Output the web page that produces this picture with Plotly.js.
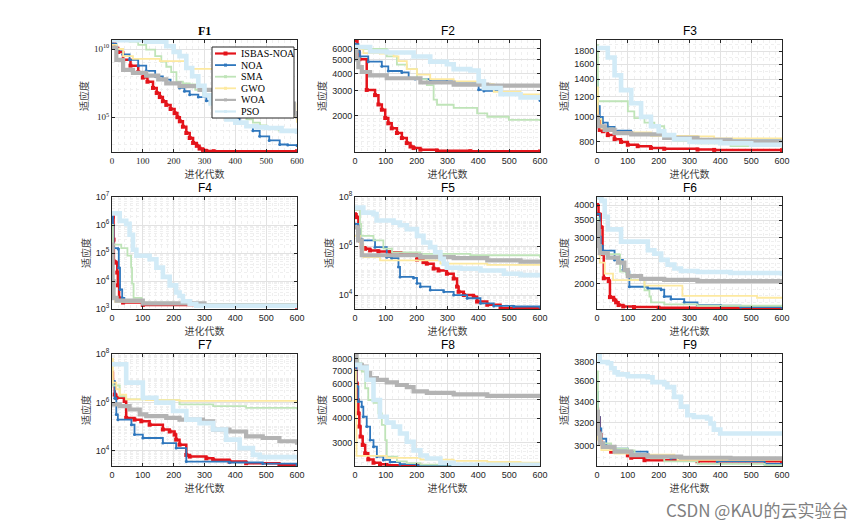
<!DOCTYPE html>
<html><head><meta charset="utf-8">
<script src="https://cdn.plot.ly/plotly-3.0.1.min.js"></script>
<style>html,body{margin:0;padding:0;background:#fff}#chart{width:865px;height:524px}</style>
</head><body><div id="chart"></div>
<script>
// ---------------- data ----------------
const seriesNames = ['ISBAS-NOA', 'NOA', 'SMA', 'GWO', 'WOA', 'PSO'];
const functionTitles = ['F1', 'F2', 'F3', 'F4', 'F5', 'F6', 'F7', 'F8', 'F9'];
const iterTicks = [0, 100, 200, 300, 400, 500, 600];
const xLabel = '进化代数';
const yLabel = '适应度';
const watermark = 'CSDN @KAU的云实验台';

// F1  [iteration, fitness]
const F1_ISBAS = [[0,2.5e10],[10,1.2e10],[20,6e9],[36,1.6e9],[60,6e8],[85,2e8],[100,8e7],[115,4e7],[133,1.4e7],[145,6e6],[155,3e6],[165,1.5e6],[176,8e5],[190,4e5],[203,2e5],[212,1e5],[220,5e4],[230,2e4],[241,7e3],[252,3e3],[263,1.3e3],[275,800],[284,500],[295,400],[306,330],[330,320],[600,316]];
const F1_NOA = [[0,2.5e10],[14,9e9],[35,4e9],[57,1.6e9],[85,6e8],[111,2.5e8],[140,1e8],[165,5.6e7],[190,3e7],[219,1.4e7],[235,8e6],[252,4.5e6],[280,3e6],[306,1.6e6],[330,9e5],[349,3.5e5],[370,2e5],[392,9e4],[414,4e4],[436,2.2e4],[457,1e4],[479,4e3],[510,2e3],[544,1e3],[570,900],[600,850]];
const F1_SMA = [[0,4.5e10],[57,3.5e10],[85,2e10],[111,9e9],[140,3e9],[160,1.2e9],[176,5e8],[192,2e8],[209,4e7],[230,3e7],[252,2.5e7],[270,1e7],[295,4.5e6],[328,2.5e6],[350,1.5e6],[371,8e5],[392,3e5],[414,1.2e5],[436,7e4],[457,4e4],[480,2.5e4],[501,1.5e4],[540,1.1e4],[600,8e3]];
const F1_GWO = [[0,2e10],[15,1e10],[36,3e9],[68,1.9e9],[155,1.3e9],[239,3.5e8],[565,2e7],[580,1e6],[595,1e5],[600,4e4]];
const F1_WOA = [[0,1.2e10],[14,1.6e9],[36,3e8],[68,1.8e8],[111,1.1e8],[150,6e7],[176,3e7],[219,1.9e7],[284,1e7],[400,8e6],[560,7e6],[575,1e6],[590,2e5],[600,8e4]];
const F1_PSO = [[0,4.5e10],[111,3.5e10],[176,1.6e10],[200,6e9],[219,3e9],[241,4e8],[260,1e8],[280,2e7],[300,4e6],[320,1e6],[345,3e5],[371,7e4],[400,4e4],[436,2.2e4],[470,1.8e4],[501,1.6e4],[550,1e4],[600,6e3]];

// F2
const F2_ISBAS = [[0,6900],[8,5800],[14,5060],[38,3050],[65,2800],[76,2400],[87,2200],[98,1920],[108,1760],[119,1620],[136,1500],[152,1380],[168,1270],[180,1200],[190,1170],[212,1140],[266,1120],[374,1110],[600,1105]];
const F2_NOA = [[0,6500],[11,5750],[16,5300],[43,4860],[87,4500],[108,4170],[152,4070],[174,3720],[195,3650],[244,3600],[298,3510],[320,3400],[401,3060],[418,3000],[472,2840],[537,2700],[600,2560]];
const F2_SMA = [[0,6100],[27,6000],[103,5300],[136,4630],[168,4300],[201,3650],[233,3300],[255,2600],[266,2390],[320,2270],[396,2070],[429,1960],[499,1860],[600,1830]];
const F2_GWO = [[0,6000],[27,5600],[81,5560],[125,5300],[141,4900],[168,4300],[201,3930],[244,3650],[320,3510],[396,3350],[450,2960],[537,2840],[600,2620]];
const F2_WOA = [[0,6000],[5,5050],[11,4450],[22,4100],[49,3880],[103,3700],[212,3450],[320,3330],[429,3280],[600,3250]];
const F2_PSO = [[0,6200],[49,5750],[103,5650],[190,5300],[244,4860],[298,4660],[320,4300],[374,4200],[401,3520],[418,3150],[472,2840],[537,2700],[600,2580]];

// F3
const F3_ISBAS = [[0,1100],[3,970],[9,890],[19,880],[35,850],[57,820],[78,800],[100,780],[132,770],[175,758],[218,752],[326,747],[380,745],[600,743]];
const F3_NOA = [[0,1400],[3,1100],[9,1000],[19,950],[35,915],[57,884],[111,865],[164,855],[218,835],[326,820],[412,810],[600,800]];
const F3_SMA = [[0,1900],[3,1150],[89,1150],[100,1050],[121,990],[154,950],[186,920],[218,840],[250,810],[326,790],[433,770],[600,760]];
const F3_GWO = [[0,1300],[3,980],[14,900],[57,870],[175,845],[326,840],[380,825],[600,800]];
const F3_WOA = [[0,1000],[3,920],[25,890],[57,865],[111,855],[218,830],[326,815],[433,800],[600,790]];
const F3_PSO = [[0,1850],[25,1850],[35,1700],[57,1450],[78,1270],[111,1130],[143,1000],[175,920],[200,880],[218,850],[250,820],[300,800],[400,790],[500,780],[600,775]];

// F4
const F4_ISBAS = [[0,2.5e6],[3,2e6],[5,3e5],[6,5e4],[12,4.5e4],[17,2e4],[19,7e3],[23,2.4e3],[36,1.7e3],[100,1.4e3],[600,1.2e3]];
const F4_NOA = [[0,2e6],[3,1e6],[5,1.5e5],[20,1.4e5],[22,3e4],[26,5e3],[33,2.5e3],[40,1.8e3],[100,1.5e3],[600,1.2e3]];
const F4_SMA = [[0,1e6],[3,2e5],[30,1.5e5],[50,8e4],[62,3e4],[65,8e3],[70,2.5e3],[95,2.4e3],[97,1.7e3],[200,1.5e3],[600,1.2e3]];
const F4_GWO = [[0,5e4],[3,1e4],[5,2.5e3],[10,1.8e3],[100,1.5e3],[600,1.2e3]];
const F4_WOA = [[0,2e5],[2,1e4],[5,2.5e3],[15,2e3],[100,1.6e3],[300,1.35e3],[600,1.25e3]];
const F4_PSO = [[0,2.6e6],[25,1.4e6],[46,1.1e6],[57,4.5e5],[68,1.3e5],[79,8e4],[111,8e4],[122,6e4],[144,3e4],[165,1.4e4],[187,7e3],[208,3.9e3],[219,2.9e3],[230,1.9e3],[252,1.5e3],[273,1.3e3],[600,1.3e3]];

// F5
const F5_ISBAS = [[0,2e7],[5,1.5e7],[11,4e6],[16,1.7e6],[22,9e5],[33,7.7e5],[49,6.6e5],[76,6e5],[114,5.6e5],[150,4.5e5],[201,2.8e5],[222,2.2e5],[233,1.9e5],[255,1.2e5],[271,1e5],[298,7.4e4],[320,4.7e4],[331,2.2e4],[336,1.35e4],[353,1e4],[385,8.5e3],[396,5.4e3],[429,4e3],[472,2.9e3],[600,2.8e3]];
const F5_NOA = [[0,8e6],[11,5e6],[16,2e6],[22,1.7e6],[65,9e5],[103,3.5e5],[119,3.2e5],[141,1.4e5],[146,5.5e4],[190,5e4],[201,3e4],[212,2.2e4],[244,1.6e4],[288,1.35e4],[320,1e4],[364,7.4e3],[407,4.6e3],[450,3.6e3],[515,3.4e3],[600,3.2e3]];
const F5_SMA = [[0,3e7],[16,8e6],[20,2.6e6],[60,1.7e6],[92,7.8e5],[120,5.5e5],[212,4.8e5],[374,4.2e5],[600,3.3e5]];
const F5_GWO = [[0,2.6e6],[16,1.2e6],[27,3.5e5],[81,2.6e5],[277,1.9e5],[429,1.7e5],[600,1.6e5]];
const F5_WOA = [[0,5.8e6],[10,1.7e6],[22,4.2e5],[212,3.5e5],[320,3.2e5],[429,2.6e5],[537,2.3e5],[600,1.9e5]];
const F5_PSO = [[0,3.7e7],[27,2.3e7],[60,2e7],[70,1.1e7],[125,9e6],[146,7e6],[168,4.9e6],[201,2.6e6],[222,1.4e6],[244,9e5],[260,5.6e5],[277,3e5],[288,1.9e5],[298,1.3e5],[342,1.2e5],[407,1e5],[483,7.4e4],[537,6.5e4],[600,5.5e4]];

// F6
const F6_ISBAS = [[0,4000],[5,3700],[12,3300],[18,2600],[22,2100],[38,2050],[42,1780],[55,1740],[62,1700],[70,1660],[85,1640],[120,1630],[200,1620],[600,1615]];
const F6_NOA = [[0,3700],[9,3030],[12,2800],[19,2680],[57,2470],[84,2260],[95,2230],[105,1950],[165,1920],[208,1900],[218,1790],[240,1750],[283,1700],[326,1660],[401,1650],[466,1630],[600,1625]];
const F6_SMA = [[0,3560],[5,2800],[9,2600],[73,2580],[75,2230],[95,2170],[110,2070],[154,1890],[170,1790],[175,1700],[218,1670],[326,1650],[600,1630]];
const F6_GWO = [[0,3215],[5,2800],[9,2410],[25,2190],[52,2068],[154,1970],[277,1800],[519,1770],[600,1770]];
const F6_WOA = [[0,3400],[5,2790],[9,2620],[35,2520],[68,2410],[89,2260],[100,2140],[143,2090],[218,2070],[326,2050],[600,2030]];
const F6_PSO = [[0,4300],[14,4150],[25,3610],[35,3230],[78,2900],[165,2690],[186,2610],[208,2470],[229,2370],[251,2290],[272,2240],[326,2220],[433,2200],[600,2150]];

// F7
const F7_ISBAS = [[0,1.7e7],[3,6.6e6],[9,2.1e6],[14,1.55e6],[41,1.15e6],[46,2.3e5],[73,1.95e5],[95,1.66e5],[122,1.2e5],[165,7.6e4],[187,6.3e4],[203,4.7e4],[208,2.9e4],[219,1.8e4],[241,6.8e3],[252,5.8e3],[306,4.9e3],[328,4.3e3],[381,3.6e3],[435,3.1e3],[543,2.6e3],[600,2.4e3]];
const F7_NOA = [[0,7.8e6],[9,1.5e6],[14,3.2e5],[19,1.95e5],[63,1.2e5],[73,4.7e4],[100,3.4e4],[165,2.1e4],[208,1.3e4],[241,3.6e3],[381,3.3e3],[489,3e3],[600,2.5e3]];
const F7_SMA = [[0,6.6e6],[3,5e6],[25,1.8e6],[46,1.35e6],[111,1.25e6],[219,8.3e5],[328,7e5],[435,6e5],[600,5.1e5]];
const F7_GWO = [[0,6.3e7],[3,6.6e6],[14,3.5e6],[25,2.1e6],[46,1.35e6],[111,1.25e6],[219,1.15e6],[600,1.07e6]];
const F7_WOA = [[0,8.3e5],[25,7e5],[57,5.1e5],[90,3.2e5],[111,2.7e5],[176,2.3e5],[219,1.95e5],[295,1.66e5],[328,7.6e4],[381,6.3e4],[435,4e4],[489,3.4e4],[543,2.5e4],[600,1.8e4]];
const F7_PSO = [[0,3.8e7],[25,3.8e7],[46,6.6e6],[95,6.6e6],[100,1.55e6],[144,9.8e5],[198,4.4e5],[241,1.95e5],[284,1.4e5],[328,7.6e4],[370,2.9e4],[414,1.3e4],[457,6.8e3],[479,5.5e3],[600,4.9e3]];

// F8
const F8_ISBAS = [[0,7460],[5,6010],[8,4950],[11,4240],[14,3630],[18,3230],[25,2930],[33,2655],[43,2475],[60,2380],[81,2340],[103,2310],[212,2295],[600,2292]];
const F8_NOA = [[0,7310],[5,5800],[11,4860],[22,4580],[27,4075],[38,3630],[49,3100],[60,2870],[71,2555],[92,2460],[114,2400],[146,2340],[201,2310],[266,2295],[600,2293]];
const F8_SMA = [[0,8030],[11,7620],[22,6900],[33,5680],[43,4950],[60,4790],[76,4240],[87,3700],[98,3100],[103,2555],[136,2420],[168,2370],[212,2330],[600,2300]];
const F8_GWO = [[0,7000],[3,4000],[5,2580],[103,2520],[212,2470],[320,2430],[429,2400],[537,2380],[600,2370]];
const F8_WOA = [[0,8370],[5,7460],[22,7310],[38,6770],[49,6400],[71,6270],[103,6080],[136,5900],[168,5760],[190,5480],[233,5380],[320,5290],[429,5200],[600,5160]];
const F8_PSO = [[0,7460],[16,7230],[38,6270],[60,4950],[81,4075],[103,3800],[125,3630],[146,3350],[168,3040],[190,2750],[212,2590],[233,2500],[277,2380],[320,2320],[600,2310]];

// F9
const F9_ISBAS = [[0,3330],[3,3250],[9,3100],[14,3020],[19,2990],[46,2950],[100,2920],[111,2900],[154,2880],[326,2872],[600,2870]];
const F9_NOA = [[0,3490],[3,3254],[9,3150],[14,3060],[30,3000],[46,2975],[100,2950],[164,2922],[240,2896],[390,2870],[544,2850],[600,2848]];
const F9_SMA = [[0,3700],[3,3100],[14,3020],[46,2975],[100,2960],[122,2922],[175,2896],[218,2870],[326,2850],[544,2840],[600,2836]];
const F9_GWO = [[0,3165],[3,3050],[14,2964],[57,2935],[111,2925],[251,2910],[261,2883],[600,2880]];
const F9_WOA = [[0,3302],[3,3105],[9,3020],[19,2990],[57,2950],[111,2922],[164,2910],[273,2900],[433,2896],[600,2896]];
const F9_PSO = [[0,3890],[9,3800],[35,3786],[46,3733],[57,3690],[68,3670],[100,3650],[164,3640],[180,3590],[218,3570],[228,3540],[250,3444],[272,3350],[293,3270],[314,3254],[357,3240],[368,3195],[379,3140],[400,3105],[600,3105]];

// y tick values / labels per panel
const F1_yTicks = [1e5, 1e10];        const F1_yTickText = ['10<sup>5</sup>', '10<sup>10</sup>'];
const F2_yTicks = [2000, 3000, 4000, 5000, 6000];
const F3_yTicks = [800, 1000, 1200, 1400, 1600, 1800];
const F4_yTicks = [1e3, 1e4, 1e5, 1e6, 1e7]; const F4_yTickText = ['10<sup>3</sup>', '10<sup>4</sup>', '10<sup>5</sup>', '10<sup>6</sup>', '10<sup>7</sup>'];
const F5_yTicks = [1e4, 1e6, 1e8];    const F5_yTickText = ['10<sup>4</sup>', '10<sup>6</sup>', '10<sup>8</sup>'];
const F6_yTicks = [2000, 2500, 3000, 3500, 4000];
const F7_yTicks = [1e4, 1e6, 1e8];    const F7_yTickText = ['10<sup>4</sup>', '10<sup>6</sup>', '10<sup>8</sup>'];
const F8_yTicks = [3000, 4000, 5000, 6000, 7000, 8000];
const F9_yTicks = [3000, 3200, 3400, 3600, 3800];

// ---------------- build ----------------
const panels = [
  {series: [F1_ISBAS, F1_NOA, F1_SMA, F1_GWO, F1_WOA, F1_PSO], ticks: F1_yTicks, text: F1_yTickText, range: [2.45, 10.66], minor: 'decade', serif: true},
  {series: [F2_ISBAS, F2_NOA, F2_SMA, F2_GWO, F2_WOA, F2_PSO], ticks: F2_yTicks, range: [3.04, 3.842], minor: [100, 1100, 1900]},
  {series: [F3_ISBAS, F3_NOA, F3_SMA, F3_GWO, F3_WOA, F3_PSO], ticks: F3_yTicks, range: [2.864, 3.298], minor: [100, 900, 1900]},
  {series: [F4_ISBAS, F4_NOA, F4_SMA, F4_GWO, F4_WOA, F4_PSO], ticks: F4_yTicks, text: F4_yTickText, range: [3, 7], minor: 'full'},
  {series: [F5_ISBAS, F5_NOA, F5_SMA, F5_GWO, F5_WOA, F5_PSO], ticks: F5_yTicks, text: F5_yTickText, range: [3.43, 8], minor: 'full'},
  {series: [F6_ISBAS, F6_NOA, F6_SMA, F6_GWO, F6_WOA, F6_PSO], ticks: F6_yTicks, range: [3.205, 3.633], minor: [100, 1700, 4200]},
  {series: [F7_ISBAS, F7_NOA, F7_SMA, F7_GWO, F7_WOA, F7_PSO], ticks: F7_yTicks, text: F7_yTickText, range: [3.375, 8.0], minor: 'full'},
  {series: [F8_ISBAS, F8_NOA, F8_SMA, F8_GWO, F8_WOA, F8_PSO], ticks: F8_yTicks, range: [3.36, 3.928], minor: [100, 2300, 2900]},
  {series: [F9_ISBAS, F9_NOA, F9_SMA, F9_GWO, F9_WOA, F9_PSO], ticks: F9_yTicks, range: [3.4523, 3.5896], minor: [100, 2900, 3800]}
];

const styles = [
  {color: '#e4141b', width: 2.5, mode: 'lines+markers', msym: 'square', msize: 4},
  {color: '#2f77bd', width: 1.8, mode: 'lines+markers', msym: 'circle', msize: 3},
  {color: '#bfe4b8', width: 1.8, mode: 'lines'},
  {color: '#fde9a0', width: 1.8, mode: 'lines'},
  {color: '#b3b3b3', width: 4.2, mode: 'lines'},
  {color: '#d2ebf7', width: 4.6, mode: 'lines'}
];

const W = 865, H = 524;
const colLeft = [112, 355, 597], plotW = 185;
const rowTop = [40, 197, 354], plotH = 112;
const px = x => x / W, py = y => 1 - y / H;
const SANS = 'Liberation Sans, Arial, sans-serif';
const SERIF = 'Liberation Serif, Times New Roman, serif';
const CJK = 'Noto Sans CJK SC, sans-serif';
const AX = '#262626';

function minorVals(spec) {
  const out = [];
  if (spec === 'decade') { for (let e = 2; e <= 11; e++) out.push(Math.pow(10, e)); }
  else if (spec === 'full') { for (let e = 2; e <= 8; e++) for (let m = 1; m <= 9; m++) out.push(m * Math.pow(10, e)); }
  else { const [step, a, b] = spec; for (let v = a; v <= b; v += step) out.push(v); }
  return out;
}

const traces = [];
const layout = {
  width: W, height: H, margin: {l: 0, r: 0, t: 0, b: 0},
  paper_bgcolor: '#ffffff', plot_bgcolor: '#ffffff',
  showlegend: false, annotations: [], shapes: []
};

panels.forEach((p, k) => {
  const col = k % 3, row = Math.floor(k / 3);
  const sfx = k === 0 ? '' : String(k + 1);
  const tf = p.serif ? SERIF : SANS;
  p.series.forEach((s, i) => {
    const st = styles[i];
    const tr = {
      type: 'scatter', mode: st.mode, name: seriesNames[i],
      x: s.map(d => d[0]), y: s.map(d => d[1]),
      xaxis: 'x' + sfx, yaxis: 'y' + sfx,
      line: {color: st.color, width: st.width, shape: 'hv'},
      hoverinfo: 'skip', showlegend: false
    };
    if (st.msym) tr.marker = {symbol: st.msym, size: st.msize, color: st.color};
    traces.push(tr);
  });
  layout['xaxis' + sfx] = {
    domain: [px(colLeft[col]), px(colLeft[col] + plotW)], anchor: 'y' + sfx,
    range: [0, 600], tickmode: 'array', tickvals: iterTicks, ticktext: iterTicks.map(String),
    showgrid: true, gridcolor: '#e2e2e2', gridwidth: 1, zeroline: false,
    showline: true, linecolor: AX, linewidth: 1, mirror: 'ticks',
    ticks: 'inside', ticklen: 3, tickcolor: AX, tickwidth: 1,
    tickfont: {family: tf, size: 9, color: AX},
    minor: {tickmode: 'linear', tick0: 0, dtick: 20, showgrid: true, gridcolor: '#efefef', griddash: 'dot', gridwidth: 1, ticks: ''},
    title: {text: xLabel, font: {family: CJK, size: 10, color: '#404040'}, standoff: 3}
  };
  layout['yaxis' + sfx] = {
    domain: [py(rowTop[row] + plotH), py(rowTop[row])], anchor: 'x' + sfx,
    type: 'log', range: p.range, tickmode: 'array', tickvals: p.ticks,
    ticktext: p.text ? p.text : p.ticks.map(String),
    showgrid: true, gridcolor: '#e2e2e2', gridwidth: 1, zeroline: false,
    showline: true, linecolor: AX, linewidth: 1, mirror: 'ticks',
    ticks: 'inside', ticklen: 3, tickcolor: AX, tickwidth: 1,
    tickfont: {family: tf, size: 9, color: AX},
    minor: {tickmode: 'array', tickvals: minorVals(p.minor), showgrid: true, gridcolor: '#efefef', griddash: 'dot', gridwidth: 1, ticks: ''},
    title: {text: yLabel, font: {family: CJK, size: 10, color: '#404040'}, standoff: 3}
  };
  layout.annotations.push({
    xref: 'paper', yref: 'paper', x: px(colLeft[col] + plotW / 2), y: py(rowTop[row] - 9),
    xanchor: 'center', yanchor: 'middle', showarrow: false, text: p.serif ? '<b>' + functionTitles[k] + '</b>' : functionTitles[k],
    font: {family: p.serif ? SERIF : SANS, size: 12, color: '#000'}
  });
});

// legend drawn inside F1 (box + samples + labels)
const lg = {x0: 212, x1: 294, y0: 47, y1: 118, first: 53.5, step: 11.6};
layout.shapes.push({type: 'rect', xref: 'paper', yref: 'paper', x0: px(lg.x0), x1: px(lg.x1), y0: py(lg.y1), y1: py(lg.y0),
  line: {color: AX, width: 1}, fillcolor: '#ffffff', layer: 'above'});
seriesNames.forEach((n, i) => {
  const yy = lg.first + i * lg.step, st = styles[i];
  layout.shapes.push({type: 'line', xref: 'paper', yref: 'paper', x0: px(215), x1: px(236), y0: py(yy), y1: py(yy),
    line: {color: st.color, width: Math.min(st.width, 2.2)}, layer: 'above'});
  const ms = i === 0 ? 2 : 1.5;
  layout.shapes.push({type: 'rect', xref: 'paper', yref: 'paper', x0: px(225.5 - ms), x1: px(225.5 + ms), y0: py(yy + ms), y1: py(yy - ms),
    line: {width: 0}, fillcolor: st.color, layer: 'above'});
  layout.annotations.push({xref: 'paper', yref: 'paper', x: px(239), y: py(yy), xanchor: 'left', yanchor: 'middle',
    showarrow: false, text: n, font: {family: SERIF, size: 10, color: '#000'}});
});

layout.annotations.push({xref: 'paper', yref: 'paper', x: px(851), y: py(509), xanchor: 'right', yanchor: 'middle',
  showarrow: false, text: watermark, font: {family: CJK, size: 17, color: '#808080'}});

Plotly.newPlot('chart', traces, layout, {staticPlot: true, displayModeBar: false});
</script></body></html>
